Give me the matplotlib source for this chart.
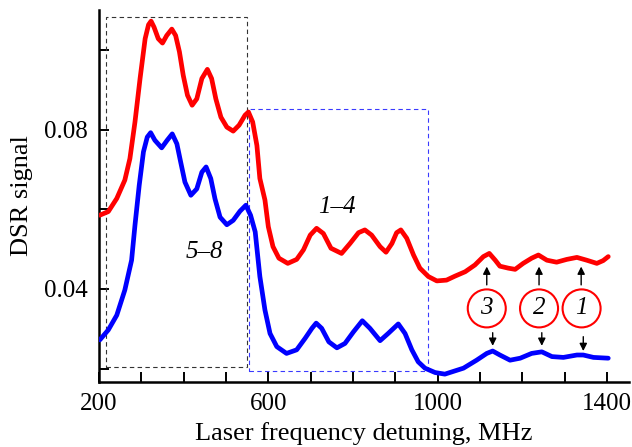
import matplotlib
matplotlib.use('Agg')
import matplotlib.pyplot as plt
from matplotlib.patches import Rectangle, Ellipse
from matplotlib.ticker import MultipleLocator

plt.rcParams['font.family'] = ['Liberation Serif', 'DejaVu Serif']

# upper (red) and lower (blue) DSR traces
red_mhz = [202, 222, 242, 261,
           273, 285, 297, 309, 317, 323, 330, 340, 350, 360,
           372, 381, 390, 399, 409, 420, 431, 443, 456, 466,
           476, 488, 502, 517, 531, 545, 553, 563, 573, 580,
           592, 600, 611, 625, 646, 667, 683, 699, 714, 730,
           748, 773, 793, 813, 828, 844, 864, 878, 892, 903,
           913, 927, 943, 958, 978, 998,
           1021, 1041, 1065, 1088, 1108, 1122, 1136, 1147, 1167, 1183,
           1202, 1222, 1238, 1258, 1281, 1305, 1329, 1352, 1376, 1391,
           1403]
red_sig = [0.0585, 0.0594, 0.0627, 0.0673,
           0.0727, 0.0819, 0.0928, 0.1028, 0.1063, 0.1072, 0.1057, 0.1028, 0.1017, 0.1036,
           0.1052, 0.1036, 0.0995, 0.0936, 0.0886, 0.0861, 0.0877, 0.0928, 0.0951, 0.0928,
           0.0877, 0.0831, 0.0806, 0.0796, 0.0811, 0.0836, 0.0844, 0.0819, 0.0760, 0.0677,
           0.0623, 0.0556, 0.0506, 0.0477, 0.0464, 0.0474, 0.0498, 0.0535, 0.0552, 0.0539,
           0.0502, 0.0489, 0.0514, 0.0541, 0.0548, 0.0535, 0.0506, 0.0492, 0.0514, 0.0541,
           0.0548, 0.0527, 0.0485, 0.0452, 0.0431, 0.0420,
           0.0422, 0.0432, 0.0443, 0.0460, 0.0481, 0.0489, 0.0472, 0.0457, 0.0452, 0.0449,
           0.0464, 0.0477, 0.0485, 0.0472, 0.0467, 0.0474, 0.0479, 0.0472, 0.0464, 0.0471,
           0.0481]

blue_mhz = [202, 222, 242, 261, 277,
            285, 295, 305, 314, 322, 332, 348, 361, 373, 384,
            393, 403, 417, 431, 443, 453, 464, 474, 486, 502,
            517, 533, 547, 558, 569,
            580, 592, 604, 620, 643, 667, 687, 703, 713, 726,
            743, 762, 781, 801, 822, 840, 864, 883, 907, 923,
            939, 954, 970, 994, 1017,
            1061, 1092, 1116, 1130, 1147, 1171, 1195, 1222, 1246, 1270,
            1297, 1329, 1344, 1368, 1403]
blue_sig = [0.0272, 0.0297, 0.0334, 0.0397, 0.0472,
            0.0560, 0.0660, 0.0744, 0.0781, 0.0792, 0.0773, 0.0754, 0.0773, 0.0789, 0.0764,
            0.0718, 0.0668, 0.0635, 0.0651, 0.0693, 0.0706, 0.0677, 0.0626, 0.0580, 0.0561,
            0.0572, 0.0595, 0.0610, 0.0585, 0.0543,
            0.0431, 0.0347, 0.0288, 0.0255, 0.0238, 0.0247, 0.0276, 0.0301, 0.0314, 0.0301,
            0.0267, 0.0252, 0.0263, 0.0292, 0.0320, 0.0301, 0.0270, 0.0288, 0.0312, 0.0288,
            0.0247, 0.0217, 0.0201, 0.0190, 0.0186,
            0.0201, 0.0221, 0.0238, 0.0244, 0.0234, 0.0221, 0.0226, 0.0238, 0.0242, 0.0230,
            0.0228, 0.0234, 0.0234, 0.0228, 0.0226]

# dashed boxes around the two groups of lines: (f_left, f_right, sig_bottom, sig_top)
box_58 = (216.5, 549, 0.0203, 0.1083)
box_14 = (554.4, 976.5, 0.0194, 0.0851)
group_labels = ['5\u20138', '1\u20134']
group_label_pos = [(450, 0.0493), (763, 0.0605)]

# numbered markers with arrows to the small peaks
peak_numbers = ['3', '2', '1']
peak_circle_mhz = [1116, 1239.5, 1340]
peak_circle_sig = 0.0351
up_arrow_mhz = [1116, 1239.5, 1339]
up_arrow_sig = (0.0410, 0.0456)
down_arrow_mhz = [1130, 1246, 1344]
down_arrow_sig = [(0.0290, 0.0257), (0.0290, 0.0257), (0.0280, 0.0244)]

fig = plt.figure(figsize=(6.32, 4.47), dpi=100)
ax = fig.add_axes([99 / 632, 1 - 381.7 / 447, 530 / 632, 371.7 / 447])

ax.plot(red_mhz, red_sig, color='#ff0000', lw=3.4, solid_capstyle='round', solid_joinstyle='round', zorder=3)
ax.plot(blue_mhz, blue_sig, color='#0000ff', lw=3.4, solid_capstyle='round', solid_joinstyle='round', zorder=3)

for (x0, x1, y0, y1), col in [(box_58, '#333333'), (box_14, '#3a3aff')]:
    ax.add_patch(Rectangle((x0, y0), x1 - x0, y1 - y0, fill=False, ec=col, lw=0.8,
                           ls=(0, (4, 3)), zorder=2))

for lab, (x, y) in zip(group_labels, group_label_pos):
    ax.text(x, y, lab, fontsize=18, style='italic', ha='center', va='center')

for num, x in zip(peak_numbers, peak_circle_mhz):
    ax.add_patch(Ellipse((x, peak_circle_sig), 89.8, 0.00954, fill=False, ec='#ff0000', lw=1.5, zorder=4))
    ax.text(x, peak_circle_sig, num, fontsize=18, style='italic', ha='center', va='center', zorder=5)

arrow_kw = dict(arrowstyle='-|>', color='k', lw=1.0, mutation_scale=11, shrinkA=0, shrinkB=0)
for x in up_arrow_mhz:
    ax.annotate('', xy=(x, up_arrow_sig[1]), xytext=(x, up_arrow_sig[0]), arrowprops=arrow_kw)
for x, (y0, y1) in zip(down_arrow_mhz, down_arrow_sig):
    ax.annotate('', xy=(x, y1), xytext=(x, y0), arrowprops=arrow_kw)

ax.set_xlim(200, 1452)
ax.set_ylim(0.0167, 0.1100)

ax.xaxis.set_minor_locator(MultipleLocator(100))
ax.yaxis.set_minor_locator(MultipleLocator(0.02))
ax.set_xticks([200, 600, 1000, 1400])
ax.set_yticks([0.04, 0.08])
ax.set_yticklabels(['0.04', '0.08'])

for side in ['top', 'right']:
    ax.spines[side].set_visible(False)
for side in ['left', 'bottom']:
    ax.spines[side].set_linewidth(1.8)

ax.tick_params(which='both', direction='in', length=7, width=1.4, labelsize=18, pad=8)

ax.set_xlabel('Laser frequency detuning, MHz', fontsize=19, labelpad=5)
ax.set_ylabel('DSR signal', fontsize=19, labelpad=8)

fig.savefig('out.png', dpi=100)
